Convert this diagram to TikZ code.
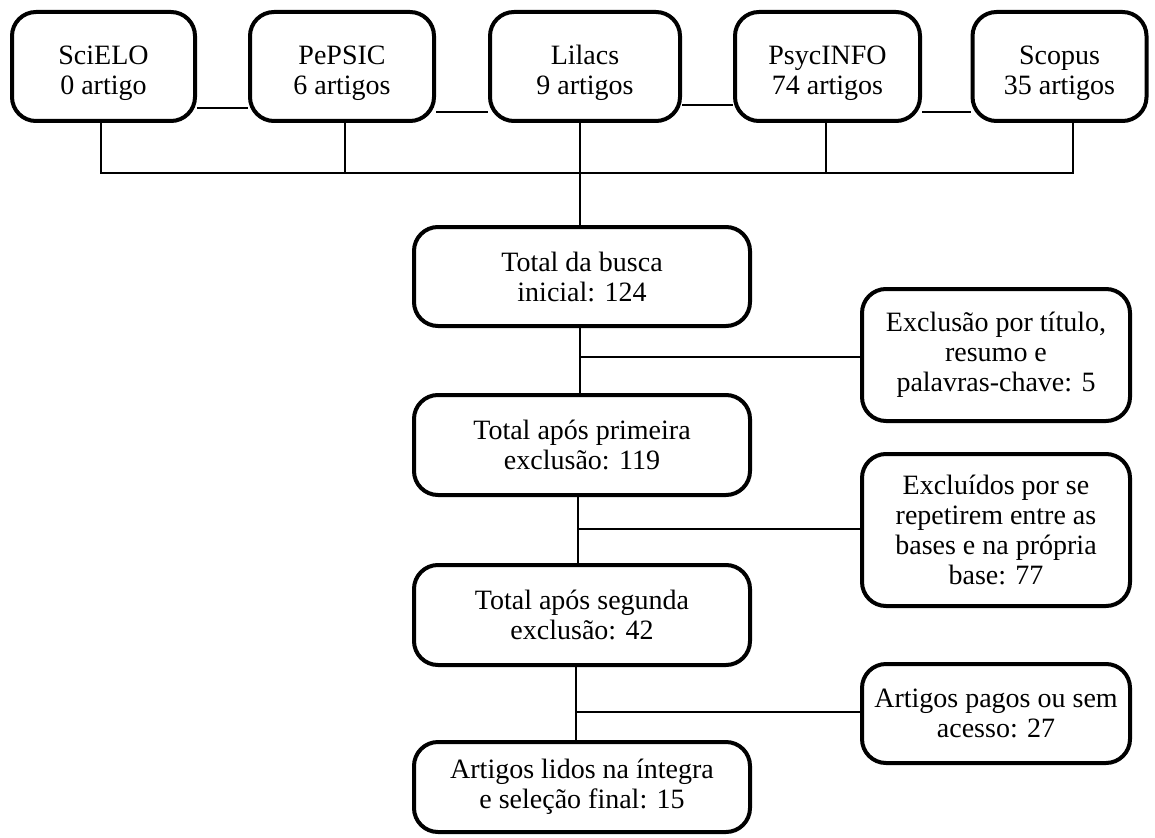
\documentclass[tikz,border=0pt]{standalone}
\usepackage{fontspec}
\setmainfont{Liberation Serif}
\newcommand{\toppad}{\rule{0pt}{33pt}}
\begin{document}
\begin{tikzpicture}[x=1pt,y=-1pt,
  box/.style={draw, line width=4pt, rounded corners=24pt, align=center, inner sep=0pt,
    font=\fontsize{28}{30}\selectfont},
  link/.style={line width=2pt}]
\useasboundingbox (0,0) rectangle (1155,837);
% top row
\node[box, minimum width=183pt, minimum height=109pt] (sci) at (103.5,66.5) {\toppad SciELO\\0 artigo};
\node[box, minimum width=184pt, minimum height=109pt] (pep) at (342,66.5) {\toppad PePSIC\\6 artigos};
\node[box, minimum width=190pt, minimum height=109pt] (lil) at (585,66.5) {\toppad Lilacs\\9 artigos};
\node[box, minimum width=185pt, minimum height=109pt] (psy) at (827.5,66.5) {\toppad PsycINFO\\74 artigos};
\node[box, minimum width=174pt, minimum height=109pt] (sco) at (1059.5,66.5) {\toppad Scopus\\35 artigos};
% middle column
\node[box, minimum width=336pt, minimum height=99pt] (t1) at (582,276.5) {Total da busca\\inicial: 124};
\node[box, minimum width=336pt, minimum height=100pt] (t2) at (582,445) {Total após primeira\\exclusão: 119};
\node[box, minimum width=336pt, minimum height=100pt] (t3) at (582,615) {Total após segunda\\exclusão: 42};
\node[box, minimum width=336pt, minimum height=90pt] (t4) at (582,787) {Artigos lidos na íntegra\\e seleção final: 15};
% right column
\node[box, minimum width=268pt, minimum height=132pt] (e1) at (996,355) {Exclusão por título,\\resumo e\\palavras-chave: 5};
\node[box, minimum width=268pt, minimum height=152pt] (e2) at (996,530) {Excluídos por se\\repetirem entre as\\bases e na própria\\base: 77};
\node[box, minimum width=268pt, minimum height=99pt] (e3) at (996,713.5) {Artigos pagos ou sem\\acesso: 27};
% connectors between top boxes
\draw[link] (sci.east |- 0,108) -- (pep.west |- 0,108);
\draw[link] (pep.east |- 0,112) -- (lil.west |- 0,112);
\draw[link] (lil.east |- 0,105) -- (psy.west |- 0,105);
\draw[link] (psy.east |- 0,112) -- (sco.west |- 0,112);
% bus
\coordinate (busL) at (101,173);
\coordinate (busR) at (1073,173);
\draw[link] (sci.south -| busL) -- (busL) -- (busR) -- (sco.south -| busR);
\draw[link] (pep.south -| 345,0) -- (345,173);
\draw[link] (psy.south -| 826,0) -- (826,173);
\draw[link] (lil.south -| 580,0) -- (t1.north -| 580,0);
% trunk
\draw[link] (t1.south -| 580,0) -- (t2.north -| 580,0);
\draw[link] (t2.south -| 578,0) -- (t3.north -| 578,0);
\draw[link] (t3.south -| 576,0) -- (t4.north -| 576,0);
% branches
\draw[link] (580,357) -- (e1.west |- 0,357);
\draw[link] (578,529) -- (e2.west |- 0,529);
\draw[link] (576,712) -- (e3.west |- 0,712);
\end{tikzpicture}
\end{document}
